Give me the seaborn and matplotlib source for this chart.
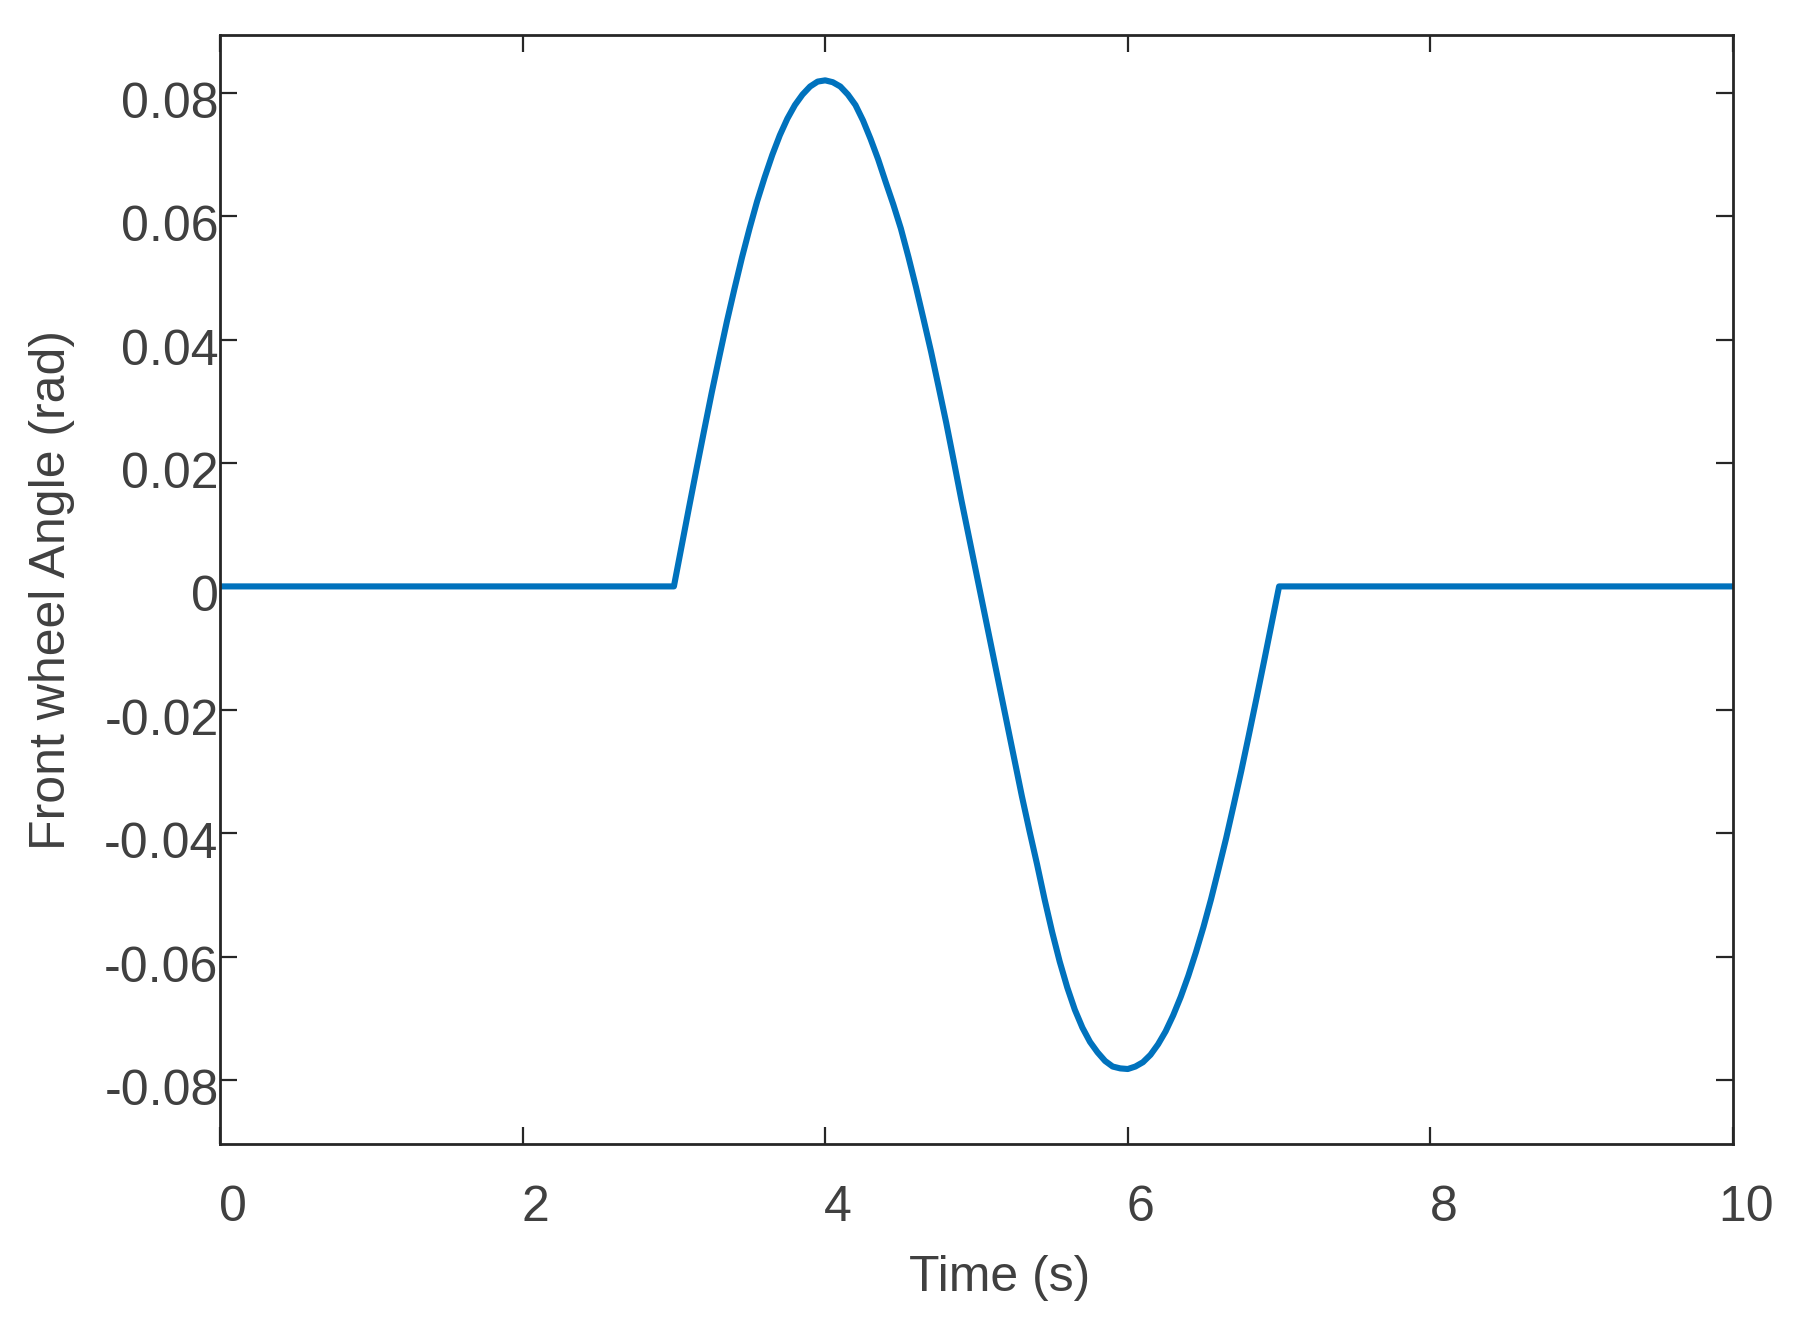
import matplotlib
matplotlib.use("Agg")
import matplotlib.pyplot as plt
import matplotlib.transforms as mtransforms
import seaborn as sns
import pandas as pd

# Data (time in s, front wheel angle in rad)
time_s = [0.0, 3.0, 3.05, 3.1, 3.15, 3.2, 3.25, 3.3, 3.35, 3.4, 3.45, 3.5, 3.55, 3.6, 3.65,
          3.7, 3.75, 3.8, 3.85, 3.9, 3.95,
          4.0, 4.05, 4.1, 4.15, 4.2, 4.25, 4.3, 4.35, 4.4, 4.45, 4.5, 4.55, 4.6, 4.65,
          4.7, 4.75, 4.8, 4.85, 4.9, 4.95,
          5.0, 5.05, 5.1, 5.15, 5.2, 5.25, 5.3, 5.35, 5.4, 5.45, 5.5, 5.55, 5.6, 5.65,
          5.7, 5.75, 5.8, 5.85, 5.9, 5.95,
          6.0, 6.05, 6.1, 6.15, 6.2, 6.25, 6.3, 6.35, 6.4, 6.45, 6.5, 6.55, 6.6, 6.65,
          6.7, 6.75, 6.8, 6.85, 6.9, 6.95,
          7.0, 10.0]
angle_rad = [0.0, 0.0, 0.0064, 0.0128, 0.0191, 0.0253, 0.0314, 0.0372, 0.0429, 0.0482, 0.0533,
             0.0580, 0.0624, 0.0663, 0.0699, 0.0731, 0.0758, 0.0780, 0.0797, 0.0810, 0.0818,
             0.0820, 0.0817, 0.0810, 0.0797, 0.0780, 0.0755, 0.0725, 0.0692, 0.0655, 0.0619,
             0.0580, 0.0534, 0.0485, 0.0433, 0.0380, 0.0323, 0.0265, 0.0203, 0.0140, 0.0080,
             0.0020, -0.0040, -0.0100, -0.0160, -0.0220, -0.0280, -0.0340, -0.0396, -0.0450, -0.0507,
             -0.0560, -0.0608, -0.0650, -0.0686, -0.0715, -0.0738, -0.0755, -0.0769, -0.0778, -0.0781,
             -0.0782, -0.0778, -0.0771, -0.0759, -0.0742, -0.0721, -0.0695, -0.0665, -0.0631, -0.0593,
             -0.0552, -0.0507, -0.0458, -0.0408, -0.0354, -0.0299, -0.0241, -0.0182, -0.0122, -0.0061,
             0.0, 0.0]

x_ticks = [0, 2, 4, 6, 8, 10]
x_tick_labels = ["0", "2", "4", "6", "8", "10"]
y_ticks = [-0.08, -0.06, -0.04, -0.02, 0.0, 0.02, 0.04, 0.06, 0.08]
y_tick_labels = ["-0.08", "-0.06", "-0.04", "-0.02", "0", "0.02", "0.04", "0.06", "0.08"]

x_label = "Time (s)"
y_label = "Front wheel Angle (rad)"

sns.set_style("white")
plt.rcParams["font.family"] = ["Liberation Sans", "DejaVu Sans"]

text_color = "#404040"
axis_color = "#262626"
line_color = "#0072BD"

df = pd.DataFrame({"t": time_s, "a": angle_rad})

W, H = 1803, 1327
ax_left, ax_right, ax_top, ax_bottom = 220, 1733, 35.3, 1144.3

fig = plt.figure(figsize=(W / 100, H / 100), dpi=100)
ax = fig.add_axes([ax_left / W, 1 - ax_bottom / H, (ax_right - ax_left) / W, (ax_bottom - ax_top) / H])

sns.lineplot(data=df, x="t", y="a", ax=ax, color=line_color, linewidth=4.4,
             sort=False, estimator=None)
for ln in ax.get_lines():
    ln.set_solid_joinstyle("round")
    ln.set_solid_capstyle("round")

ax.set_xlim(0, 10)
ax.set_ylim(-0.0904, 0.0893)
ax.set_xticks(x_ticks)
ax.set_xticklabels(x_tick_labels)
ax.set_yticks(y_ticks)
ax.set_yticklabels(y_tick_labels)

for s in ax.spines.values():
    s.set_visible(True)
    s.set_color(axis_color)
    s.set_linewidth(2.0)

ax.tick_params(axis="both", which="major", direction="in", length=12, width=1.6,
               color=axis_color, labelcolor=text_color, labelsize=36,
               top=True, right=True, bottom=True, left=True)
ax.tick_params(axis="x", pad=29)
ax.tick_params(axis="y", pad=1)

# small MATLAB-like offsets of tick labels
dx = mtransforms.ScaledTranslation(13 / 100, 0, fig.dpi_scale_trans)
for lbl in ax.get_xticklabels():
    lbl.set_transform(lbl.get_transform() + dx)
dy = mtransforms.ScaledTranslation(0, -7 / 100, fig.dpi_scale_trans)
for lbl in ax.get_yticklabels():
    lbl.set_transform(lbl.get_transform() + dy)

ax.set_xlabel(x_label, fontsize=36, color=text_color)
ax.set_ylabel(y_label, fontsize=36, color=text_color, va="center")
ax.xaxis.label.set_va("center")
axw, axh = ax_right - ax_left, ax_bottom - ax_top
ax.xaxis.set_label_coords((1000 - ax_left) / axw, (ax_bottom - 1278) / axh)
ax.yaxis.set_label_coords((52 - ax_left) / axw, (ax_bottom - 590) / axh)

fig.savefig("out.png", dpi=100, facecolor="white")
